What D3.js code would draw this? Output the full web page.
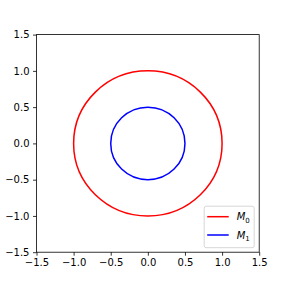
<!DOCTYPE html>
<html>
<head>
<meta charset="utf-8">
<script src="https://cdn.jsdelivr.net/npm/d3@7"></script>
<style>
  body { margin: 0; background: #fff; }
  text { font-family: "DejaVu Sans", sans-serif; }
</style>
</head>
<body>
<div id="chart"></div>
<script>
// circle data: radius of each model, centred on origin
var names = ["M", "M"];
var subs = ["0", "1"];
var radii = [1.0, 0.5];
var colors = ["#ff0000", "#0000ff"];
var xTicks = [-1.5, -1.0, -0.5, 0.0, 0.5, 1.0, 1.5];
var yTicks = [-1.5, -1.0, -0.5, 0.0, 0.5, 1.0, 1.5];

var svgWidth = 288, svgHeight = 288;
var margin = { top: 34.6, right: 28.8, bottom: 35.8, left: 36.5 };
var width = svgWidth - margin.left - margin.right;
var height = svgHeight - margin.top - margin.bottom;

var svg = d3.select("#chart").append("svg")
  .attr("width", svgWidth)
  .attr("height", svgHeight);

var chartGroup = svg.append("g")
  .attr("transform", `translate(${margin.left}, ${margin.top})`);

var xScale = d3.scaleLinear().domain([-1.5, 1.5]).range([0, width]);
var yScale = d3.scaleLinear().domain([-1.5, 1.5]).range([height, 0]);

// circles
chartGroup.selectAll("ellipse")
  .data(radii)
  .enter()
  .append("ellipse")
  .attr("cx", xScale(0))
  .attr("cy", yScale(0))
  .attr("rx", d => xScale(d) - xScale(0))
  .attr("ry", d => yScale(0) - yScale(d))
  .attr("fill", "none")
  .attr("stroke", (d, i) => colors[i])
  .attr("stroke-width", 1.5);

// axes
var fmt = d3.format(".1f");
var bottomAxis = d3.axisBottom(xScale).tickValues(xTicks)
  .tickFormat(d => fmt(d).replace("-", "\u2212"))
  .tickSize(3.5).tickPadding(3.5).tickSizeOuter(0);
var leftAxis = d3.axisLeft(yScale).tickValues(yTicks)
  .tickFormat(d => fmt(d).replace("-", "\u2212"))
  .tickSize(3.5).tickPadding(3.5).tickSizeOuter(0);

var xAxis = chartGroup.append("g")
  .attr("transform", `translate(0, ${height})`)
  .call(bottomAxis);
var yAxis = chartGroup.append("g").call(leftAxis);

[xAxis, yAxis].forEach(function(a) {
  a.select(".domain").remove();
  a.selectAll("line").attr("stroke", "#000").attr("stroke-width", 0.8);
  a.selectAll("text").attr("fill", "#000")
    .style("font-family", "DejaVu Sans").style("font-size", "10px");
});

// frame
chartGroup.append("rect")
  .attr("x", 0).attr("y", 0)
  .attr("width", width).attr("height", height)
  .attr("fill", "none")
  .attr("stroke", "#000")
  .attr("stroke-width", 0.8);

// legend
var legend = chartGroup.append("g")
  .attr("transform", `translate(${width - 55}, ${height - 46})`);
legend.append("rect")
  .attr("x", 0).attr("y", 0)
  .attr("width", 50).attr("height", 41.5)
  .attr("rx", 2).attr("ry", 2)
  .attr("fill", "#fff").attr("fill-opacity", 0.8)
  .attr("stroke", "#cccccc").attr("stroke-width", 0.8);

var items = legend.selectAll("g.item")
  .data(radii)
  .enter()
  .append("g")
  .attr("class", "item")
  .attr("transform", (d, i) => `translate(0, ${10.5 + i * 18.3})`);

items.append("line")
  .attr("x1", 3).attr("x2", 24.5)
  .attr("y1", 0).attr("y2", 0)
  .attr("stroke", (d, i) => colors[i])
  .attr("stroke-width", 1.5);

var labels = items.append("text")
  .attr("x", 32.5)
  .attr("y", 3.5)
  .style("font-size", "10px")
  .attr("fill", "#000");
labels.append("tspan")
  .style("font-style", "italic")
  .text((d, i) => names[i]);
labels.append("tspan")
  .attr("dy", 2.5)
  .style("font-size", "7px")
  .text((d, i) => subs[i]);
</script>
</body>
</html>
